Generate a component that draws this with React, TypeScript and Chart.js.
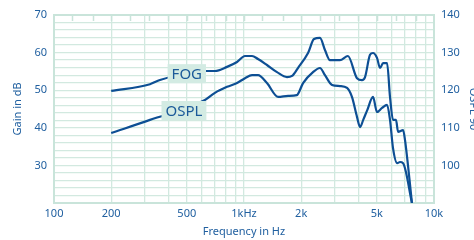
import React, { useEffect, useRef } from "react";
import { Chart, registerables } from "chart.js";

Chart.register(...registerables);

// ---- data ----
const fogFreq = [200, 320, 361, 638, 703, 814, 919, 1012, 1102, 1185, 1321, 1492, 1684, 1790, 1923, 2173, 2336, 2512, 2668, 2835, 3200, 3524, 3933, 4178, 4335, 4605, 4775, 5012, 5200, 5395, 5662, 5868, 6085, 6310, 6470, 6875, 7035, 7656];
const fogGain = [49.8, 51.6, 52.7, 55.1, 55.1, 56.2, 57.5, 59.1, 59.1, 58.3, 56.7, 54.8, 53.5, 53.8, 55.9, 59.9, 63.6, 63.9, 60.7, 58.0, 58.0, 59.1, 53.2, 52.7, 53.5, 59.4, 59.9, 58.6, 55.9, 57.2, 57.2, 48.2, 42.1, 42.1, 38.9, 39.4, 36.8, 20.0];

const osplFreq = [200, 320, 623, 703, 814, 919, 1012, 1102, 1185, 1321, 1513, 1706, 1897, 2046, 2308, 2512, 2668, 2905, 3200, 3487, 3700, 3933, 4084, 4241, 4454, 4775, 5012, 5330, 5662, 5868, 6085, 6398, 6622, 6875, 7656];
const osplLevel = [108.6, 112.1, 117.4, 119.3, 120.9, 121.9, 123.2, 124.0, 124.0, 121.9, 118.2, 118.5, 118.7, 121.9, 124.8, 125.9, 124.0, 121.4, 121.1, 120.6, 118.2, 112.9, 110.2, 112.1, 114.7, 118.2, 114.2, 115.3, 116.1, 112.1, 104.6, 100.6, 100.9, 100.6, 90.0];

const xTicks = [100, 200, 300, 400, 500, 600, 700, 800, 900, 1000, 2000, 3000, 4000, 5000, 6000, 7000, 8000, 9000, 10000];
const xTickLabels = ["100", "200", "", "", "500", "", "", "", "", "1kHz", "2k", "", "", "5k", "", "", "", "", "10k"];
const thirdOctaveMarks = [125, 160, 200, 250, 315, 400, 500, 630, 800, 1000, 1250, 1600, 2000, 2500, 3150, 4000, 5000, 6300, 8000];

const gainMin = 20;
const gainMax = 70;
const osplMin = 90;
const osplMax = 140;

const seriesLabels = ["FOG", "OSPL"];
const seriesLabelFreq = [500, 483];
const seriesLabelGain = [54.4, 44.6];

// ---- styles ----
const BLUE_TEXT = "#2160a0";
const LINE_BLUE = "#0d4f94";
const GRID = "#d2e9e0";
const BORDER = "#c9e4da";
const LABEL_BG = "#d3ebe3";
const FONT = "'Noto Sans', 'Open Sans', sans-serif";

const framePlugin = {
  id: "frame",
  beforeDatasetsDraw(chart: any) {
    const { ctx, chartArea } = chart;
    const xs = chart.scales.x;
    ctx.save();
    ctx.strokeStyle = BORDER;
    ctx.lineWidth = 2;
    ctx.strokeRect(chartArea.left, chartArea.top, chartArea.right - chartArea.left, chartArea.bottom - chartArea.top);
    ctx.lineWidth = 1.5;
    ctx.beginPath();
    thirdOctaveMarks.forEach((f) => {
      const px = Math.round(xs.getPixelForValue(f)) + 0.5;
      ctx.moveTo(px, chartArea.top);
      ctx.lineTo(px, chartArea.top + 6);
    });
    ctx.stroke();
    ctx.restore();
  },
  afterDatasetsDraw(chart: any) {
    const { ctx } = chart;
    const xs = chart.scales.x;
    const ys = chart.scales.y;
    ctx.save();
    ctx.font = `15px ${FONT}`;
    ctx.textAlign = "center";
    ctx.textBaseline = "middle";
    seriesLabels.forEach((t, i) => {
      const cx = xs.getPixelForValue(seriesLabelFreq[i]);
      const cy = ys.getPixelForValue(seriesLabelGain[i]);
      const w = ctx.measureText(t).width + 8;
      const h = 19;
      ctx.fillStyle = LABEL_BG;
      ctx.fillRect(cx - w / 2, cy - h / 2, w, h);
      ctx.fillStyle = "#1b5a99";
      ctx.fillText(t, cx, cy + 1);
    });
    ctx.restore();
  },
};

export default function App() {
  const ref = useRef<HTMLCanvasElement | null>(null);
  useEffect(() => {
    if (!ref.current) return;
    const tickFont = { family: FONT, size: 11 };
    const chart = new Chart(ref.current, {
      type: "line",
      data: {
        datasets: [
          {
            label: "FOG",
            data: fogFreq.map((f, i) => ({ x: f, y: fogGain[i] })),
            yAxisID: "y",
            borderColor: LINE_BLUE,
            borderWidth: 2.2,
            pointRadius: 0,
            cubicInterpolationMode: "monotone",
            fill: false,
          },
          {
            label: "OSPL",
            data: osplFreq.map((f, i) => ({ x: f, y: osplLevel[i] })),
            yAxisID: "y2",
            borderColor: LINE_BLUE,
            borderWidth: 2.2,
            pointRadius: 0,
            cubicInterpolationMode: "monotone",
            fill: false,
          },
        ],
      },
      options: {
        responsive: false,
        animation: false,
        events: [],
        layout: { padding: { top: 15, left: 0, right: 0, bottom: 0 } },
        plugins: { legend: { display: false }, tooltip: { enabled: false } },
        scales: {
          x: {
            type: "logarithmic",
            min: 100,
            max: 10000,
            afterBuildTicks: (s: any) => {
              s.ticks = xTicks.map((v) => ({ value: v }));
            },
            afterFit: (s: any) => {
              s.height = 37;
            },
            ticks: {
              autoSkip: false,
              maxRotation: 0,
              padding: 4,
              color: BLUE_TEXT,
              font: tickFont,
              callback: (v: any) => {
                const i = xTicks.indexOf(Number(v));
                return i >= 0 ? xTickLabels[i] : "";
              },
            },
            grid: { color: GRID, lineWidth: 1.3, drawTicks: false },
            border: { display: false },
            title: {
              display: true,
              text: "Frequency in Hz",
              color: BLUE_TEXT,
              font: tickFont,
              padding: { top: 0, bottom: 2 },
            },
          },
          y: {
            position: "left",
            min: gainMin,
            max: gainMax,
            afterBuildTicks: (s: any) => {
              const t = [];
              for (let v = gainMin; v <= gainMax; v += 2) t.push({ value: v });
              s.ticks = t;
            },
            afterFit: (s: any) => {
              s.width = 54;
            },
            ticks: {
              autoSkip: false,
              padding: 7,
              color: BLUE_TEXT,
              font: tickFont,
              callback: (v: any) => (Number(v) % 10 === 0 && Number(v) > gainMin ? String(v) : ""),
            },
            grid: { color: GRID, lineWidth: 1.3, drawTicks: false },
            border: { display: false },
            title: {
              display: true,
              text: "Gain in dB",
              color: BLUE_TEXT,
              font: tickFont,
              padding: { top: 11, bottom: 0 },
            },
          },
          y2: {
            position: "right",
            min: osplMin,
            max: osplMax,
            afterBuildTicks: (s: any) => {
              const t = [];
              for (let v = osplMin; v <= osplMax; v += 10) t.push({ value: v });
              s.ticks = t;
            },
            afterFit: (s: any) => {
              s.width = 40;
            },
            ticks: {
              autoSkip: false,
              padding: 7,
              color: BLUE_TEXT,
              font: tickFont,
              callback: (v: any) => (Number(v) > osplMin ? String(v) : ""),
            },
            grid: { display: false, drawTicks: false },
            border: { display: false },
            title: {
              display: true,
              text: "OSPL 90",
              color: BLUE_TEXT,
              font: tickFont,
              padding: { top: -6, bottom: 0 },
            },
          },
        },
      },
      plugins: [framePlugin],
    } as any);
    return () => chart.destroy();
  }, []);
  return (
    <div style={{ position: "fixed", left: 0, top: 0, width: 474, height: 240, background: "#fff" }}>
      <canvas ref={ref} width={474} height={240} style={{ display: "block", width: 474, height: 240 }} />
    </div>
  );
}
